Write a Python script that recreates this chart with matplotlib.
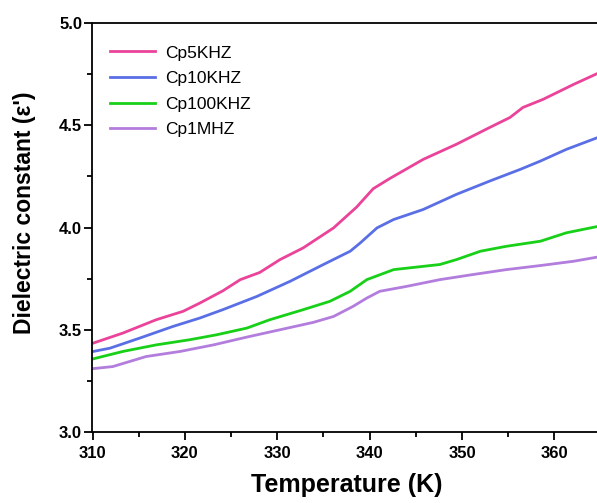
import matplotlib.pyplot as plt
from matplotlib.ticker import MultipleLocator

# Values
t_5k = [310.1, 313.3, 316.9, 319.8, 321.6, 324.1, 326.0, 328.1, 330.3, 332.8, 336.1,
        338.6, 340.4, 342.2, 345.8, 349.4, 353.0, 355.2, 356.6, 358.8, 362.1, 365.0]
cp_5k = [3.435, 3.484, 3.549, 3.59, 3.63, 3.69, 3.745, 3.78, 3.843, 3.90, 3.998,
         4.10, 4.19, 4.24, 4.333, 4.407, 4.489, 4.538, 4.587, 4.627, 4.70, 4.76]

t_10k = [310.1, 311.9, 315.1, 318.7, 321.6, 324.1, 327.8, 331.4, 335.0, 337.9, 339.0,
         340.8, 342.6, 345.8, 349.4, 353.0, 356.3, 358.5, 361.3, 365.0]
cp_10k = [3.394, 3.41, 3.459, 3.516, 3.557, 3.598, 3.663, 3.737, 3.819, 3.884, 3.925,
          3.998, 4.039, 4.088, 4.162, 4.227, 4.284, 4.325, 4.382, 4.445]

t_100k = [310.1, 313.3, 316.9, 320.5, 323.4, 326.7, 329.2, 332.8, 335.7, 337.9, 339.7,
          342.6, 347.6, 349.4, 352.0, 354.8, 358.5, 361.3, 365.0]
cp_100k = [3.358, 3.394, 3.426, 3.451, 3.475, 3.508, 3.549, 3.598, 3.639, 3.688, 3.745,
           3.794, 3.819, 3.843, 3.884, 3.908, 3.933, 3.974, 4.008]

t_1m = [310.1, 312.2, 315.8, 319.5, 323.1, 326.7, 330.3, 333.9, 336.1, 338.2, 339.7,
        341.1, 344.0, 347.6, 351.2, 354.8, 358.5, 362.1, 365.0]
cp_1m = [3.31, 3.32, 3.369, 3.394, 3.426, 3.464, 3.50, 3.536, 3.565, 3.614, 3.655,
         3.688, 3.712, 3.745, 3.77, 3.794, 3.814, 3.835, 3.858]

labels = ["Cp5KHZ", "Cp10KHZ", "Cp100KHZ", "Cp1MHZ"]
colors = ["#ea4399", "#5a6fe6", "#18d018", "#b27ddc"]

plt.rcParams["font.family"] = ["Liberation Sans", "DejaVu Sans"]

fig = plt.figure(figsize=(5.97, 5.03), dpi=100)
ax = fig.add_axes([92.5 / 597, (503 - 432) / 503, 508 / 597, 409 / 503])

series = [(t_5k, cp_5k), (t_10k, cp_10k), (t_100k, cp_100k), (t_1m, cp_1m)]
for (t, cp), lab, col in zip(series, labels, colors):
    ax.plot(t, cp, color=col, lw=2.0, label=lab)

ax.set_xlim(310, 365)
ax.set_ylim(3.0, 5.0)
ax.xaxis.set_major_locator(MultipleLocator(10))
ax.xaxis.set_minor_locator(MultipleLocator(5))
ax.yaxis.set_major_locator(MultipleLocator(0.5))
ax.yaxis.set_minor_locator(MultipleLocator(0.25))
ax.tick_params(which="major", direction="out", length=5.5, width=1.3, labelsize=12)
ax.tick_params(which="minor", direction="out", length=3.5, width=1.3)
ax.tick_params(axis="x", which="major", pad=4.5)
ax.tick_params(axis="y", which="major", pad=2)
for lab in ax.get_xticklabels() + ax.get_yticklabels():
    lab.set_fontweight("bold")
ax.yaxis.set_major_formatter(plt.FormatStrFormatter("%.1f"))
for s in ax.spines.values():
    s.set_linewidth(1.3)

ax.set_xlabel("Temperature (K)", fontsize=18, fontweight="bold", labelpad=9)
ax.set_ylabel("Dielectric constant (ε')", fontsize=16.5, fontweight="bold")
ax.yaxis.set_label_coords(-0.112, 0.535)

ax.legend(loc="upper left", bbox_to_anchor=(0.01, 0.975), frameon=False, fontsize=12.5,
          handlelength=2.6, handletextpad=0.6, labelspacing=0.6, borderaxespad=0.3)

fig.savefig("out.png", dpi=100)
